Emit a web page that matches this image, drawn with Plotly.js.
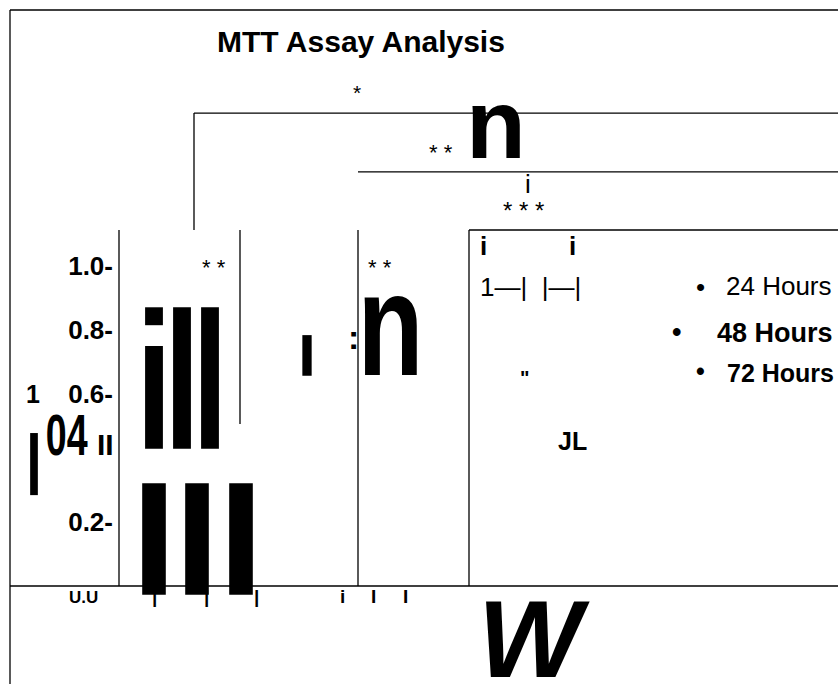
<!DOCTYPE html>
<html>
<head>
<meta charset="utf-8">
<script src="https://cdn.plot.ly/plotly-3.0.1.min.js"></script>
<style>html,body{margin:0;padding:0;background:#fff}</style>
</head>
<body>
<div id="chart" style="width:838px;height:684px"></div>
<script>
// ---------------- data ----------------
const seriesNames = ['24 Hours', '48 Hours', '72 Hours'];
const yTickVals = [0.2, 0.6, 0.8, 1.0];
const yTickText = ['0.2-', '0.6-', '0.8-', '1.0-'];

// lower bar group (viability values)
const lowerBarX = [154, 197, 241];
const lowerBarTop = [0.321, 0.321, 0.321];
const lowerBarBase = [-0.027, -0.027, -0.027];

// upper bar group (first bar drawn in two pieces)
const upperBarX = [154, 154, 182, 210];
const upperBarTop = [0.871, 0.750, 0.871, 0.871];
const upperBarBase = [0.815, 0.429, 0.429, 0.429];

// small isolated bars
const smallBarX = [307, 34];
const smallBarTop = [0.784, 0.478];
const smallBarBase = [0.657, 0.284];

// significance bracket levels
const bracketLevels = [1.478, 1.294, 1.1125];
const bracketStartX = [194, 358, 469];
const panelDividerX = [119, 240, 358, 469];
const panelDividerBottom = [0, 0.506, 0, 0];

// ---------------- layout helpers ----------------
const W = 838, H = 684;
const Y0PX = 586, PXPERUNIT = 320;          // pixel of value 0, pixels per 1.0
const yMin = (Y0PX - H) / PXPERUNIT, yMax = Y0PX / PXPERUNIT;
const FONT = 'Liberation Sans, Arial, sans-serif';

function bars(xs, tops, bases, w) {
  return {
    type: 'bar', x: xs,
    y: tops.map((t, i) => t - bases[i]), base: bases,
    width: xs.map(() => w), marker: {color: '#000', line: {width: 0}},
    hoverinfo: 'skip', showlegend: false
  };
}
const traces = [
  bars(lowerBarX, lowerBarTop, lowerBarBase, 23.6),
  bars(upperBarX, upperBarTop, upperBarBase, 17.8),
  bars([smallBarX[0]], [smallBarTop[0]], [smallBarBase[0]], 9.3),
  bars([smallBarX[1]], [smallBarTop[1]], [smallBarBase[1]], 7.7)
];

const squeeze = [];   // [annotation index, horizontal scale]
function A(text, x, y, size, o) {
  o = o || {};
  return {
    text: text, x: x / W, y: 1 - y / H, xref: 'paper', yref: 'paper',
    showarrow: false, xanchor: o.xa || 'center', yanchor: 'middle', borderpad: 0,
    font: {family: FONT, size: size, color: '#000',
           weight: o.bold ? 'bold' : 'normal', style: o.italic ? 'italic' : 'normal'}
  };
}

const annotations = [
  A('MTT Assay Analysis', 361, 41.6, 30, {bold: true}),
  A('*', 357, 92.4, 21),
  A('* *', 441, 152.8, 22),
  A('n', 496.5, 123.8, 98, {bold: true}),
  A('i', 527.5, 183.8, 26),
  A('* * *', 523.5, 210.3, 24),
  A('* *', 214, 267.3, 22),
  A('* *', 380, 267.3, 22),
  A(':', 353.3, 337, 34, {bold: true}),
  A('n', 390.5, 324.3, 146, {bold: true}),
  A('04', 66.7, 434.6, 57, {bold: true}),
  A('II', 105, 444, 30, {bold: true}),
  A('1', 33, 393.5, 25, {bold: true}),
  A('U.U', 83, 597.5, 17, {bold: true}),
  A('|', 154.5, 596.2, 19, {bold: true}),
  A('|', 206.2, 596.2, 19, {bold: true}),
  A('|', 256.4, 596.2, 19, {bold: true}),
  A('i', 342, 596.2, 19, {bold: true}),
  A('I', 373.7, 596.2, 19, {bold: true}),
  A('I', 405.3, 596.2, 19, {bold: true}),
  A('i', 483, 245.5, 26, {bold: true}),
  A('i', 572.5, 245.5, 26, {bold: true}),
  A('1\u2014|\u00a0\u00a0|\u2014|', 479, 287, 26, {xa: 'left'}),
  A('"', 524, 377.6, 20, {bold: true}),
  A('JL', 572, 441, 25, {bold: true}),
  A('W', 534, 638, 110, {bold: true, italic: true}),
  // legend
  A('\u2022', 700, 286.7, 26),
  A(seriesNames[0], 724.5, 286.3, 26, {xa: 'left'}),
  A('\u2022', 676.7, 331.7, 27, {bold: true}),
  A(seriesNames[1], 715.5, 333, 27, {bold: true, xa: 'left'}),
  A('\u2022', 700, 370.5, 25, {bold: true}),
  A(seriesNames[2], 725.5, 372.5, 25, {bold: true, xa: 'left'})
];
squeeze.push([9, 0.74]);   // big "n" in middle panel is condensed
squeeze.push([10, 0.66]);  // "04" is condensed

const LINE = {color: '#000', width: 1.3};
const shapes = [];
// frame
shapes.push({type: 'line', xref: 'x', yref: 'paper', x0: 10, x1: 10, y0: 0, y1: 1 - 10 / H, line: LINE});
shapes.push({type: 'line', xref: 'x', yref: 'paper', x0: 10, x1: W, y0: 1 - 10 / H, y1: 1 - 10 / H, line: LINE});
// baseline at value 0
shapes.push({type: 'line', xref: 'x', yref: 'y', x0: 10, x1: W, y0: 0, y1: 0, line: LINE});
// panel dividers
panelDividerX.forEach((x, i) => shapes.push({type: 'line', xref: 'x', yref: 'y',
  x0: x, x1: x, y0: panelDividerBottom[i], y1: bracketLevels[2], line: LINE}));
// brackets
bracketLevels.forEach((lv, i) => shapes.push({type: 'line', xref: 'x', yref: 'y',
  x0: bracketStartX[i], x1: W, y0: lv, y1: lv, line: LINE}));
shapes.push({type: 'line', xref: 'x', yref: 'y', x0: bracketStartX[0], x1: bracketStartX[0],
  y0: bracketLevels[0], y1: bracketLevels[2], line: LINE});

const layout = {
  width: W, height: H, margin: {l: 0, r: 0, t: 0, b: 0, pad: 0},
  paper_bgcolor: '#fff', plot_bgcolor: '#fff', showlegend: false, barmode: 'overlay',
  xaxis: {range: [0, W], visible: false, fixedrange: true},
  yaxis: {range: [yMin, yMax], anchor: 'free', position: 119 / W, showgrid: false,
          zeroline: false, showline: false, ticks: '', tickvals: yTickVals, ticktext: yTickText,
          tickfont: {family: FONT, size: 26, color: '#000', weight: 'bold'},
          ticklabelstandoff: 6, automargin: false, fixedrange: true},
  annotations: annotations, shapes: shapes
};
Plotly.newPlot('chart', traces, layout, {displayModeBar: false, staticPlot: true}).then(gd => {
  squeeze.forEach(([idx, s]) => {
    const t = gd.querySelector('.annotation[data-index="' + idx + '"] text.annotation-text');
    if (t) {
      t.style.transformBox = 'fill-box';
      t.style.transformOrigin = 'center';
      t.style.transform = 'scaleX(' + s + ')';
    }
  });
});
</script>
</body>
</html>
